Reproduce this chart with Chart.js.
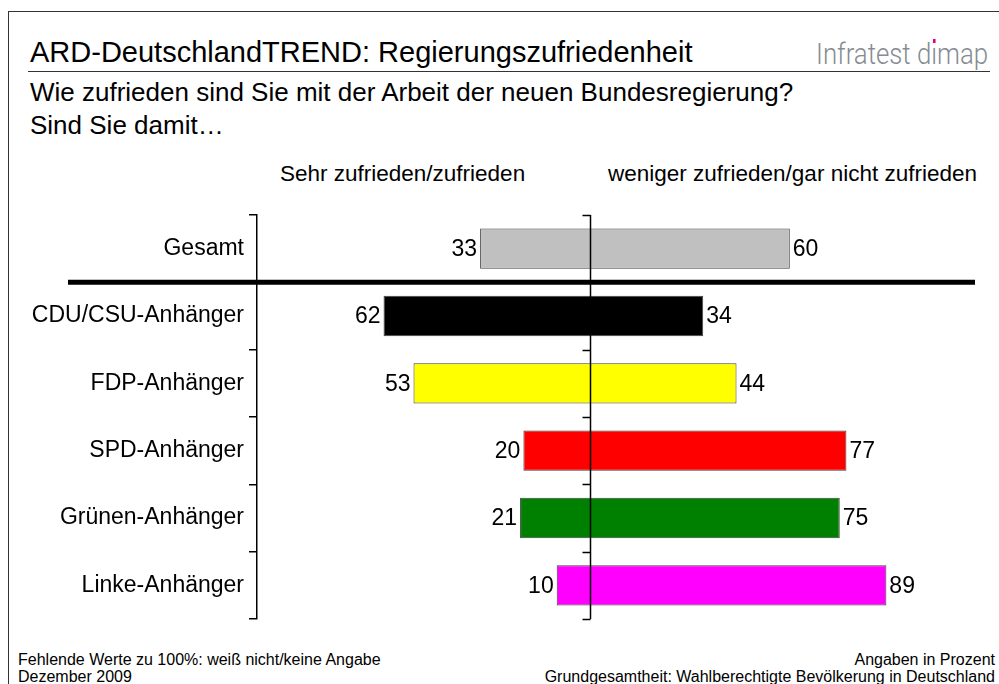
<!DOCTYPE html>
<html>
<head>
<meta charset="utf-8">
<script src="https://cdn.jsdelivr.net/npm/chart.js@4"></script>
<style>
  html, body { margin: 0; padding: 0; background: #fff; overflow: hidden; }
  body { width: 999px; height: 684px; position: relative; font-family: "Liberation Sans", Arial, sans-serif; color: #000; }
  .frame { position: absolute; left: 8px; top: 11px; width: 1100px; height: 800px; border: 1px solid #333; }
  .txt { position: absolute; white-space: nowrap; }
  #title { left: 30px; top: 38px; font-size: 29px; line-height: 29px; }
  #rule { position: absolute; left: 28px; top: 71px; width: 962px; height: 0; border-top: 1px solid #333; }
  #brand { right: 11px; top: 39px; font-size: 30px; line-height: 29px; color: #858c92; font-family: Roboto, sans-serif; font-weight: 300; transform: scaleX(0.86); transform-origin: right center; }
  #brand .i { position: relative; }
  #brand .dot { position: absolute; left: 2px; top: 3px; width: 3px; height: 4px; background: #e2007a; }
  #sub { left: 30px; top: 76px; font-size: 26px; line-height: 33px; }
  #hl { left: 280px; top: 163px; font-size: 22.5px; line-height: 22.5px; }
  #hr { left: 608px; top: 163px; font-size: 22.5px; line-height: 22.5px; }
  #fl { left: 18px; top: 651px; font-size: 16px; line-height: 17px; }
  #fr { right: 4px; top: 651px; font-size: 16px; line-height: 17px; text-align: right; }
  #wrap { position: absolute; left: 0; top: 0; width: 999px; height: 684px; }
</style>
</head>
<body>
<div class="frame"></div>
<div class="txt" id="title">ARD-DeutschlandTREND: Regierungszufriedenheit</div>
<div id="rule"></div>
<div class="txt" id="brand">Infratest d<span class="i">ı<span class="dot"></span></span>map</div>
<div class="txt" id="sub">Wie zufrieden sind Sie mit der Arbeit der neuen Bundesregierung?<br>Sind Sie damit…</div>
<div class="txt" id="hl">Sehr zufrieden/zufrieden</div>
<div class="txt" id="hr">weniger zufrieden/gar nicht zufrieden</div>
<div class="txt" id="fl">Fehlende Werte zu 100%: weiß nicht/keine Angabe<br>Dezember 2009</div>
<div class="txt" id="fr">Angaben in Prozent<br>Grundgesamtheit: Wahlberechtigte Bevölkerung in Deutschland</div>
<div id="wrap"><canvas id="chart"></canvas></div>
<script>
// data
const groups = ['Gesamt', 'CDU/CSU-Anhänger', 'FDP-Anhänger', 'SPD-Anhänger', 'Grünen-Anhänger', 'Linke-Anhänger'];
const zufrieden = [33, 62, 53, 20, 21, 10];
const nichtZufrieden = [60, 34, 44, 77, 75, 89];
const barColors = ['#c0c0c0', '#000000', '#ffff00', '#ff0000', '#008000', '#ff00ff'];

const labelFont = '23px "Liberation Sans", Arial, sans-serif';

// value labels at both bar ends
const valueLabels = {
  id: 'valueLabels',
  afterDatasetsDraw(chart) {
    const c = chart.ctx;
    const meta = chart.getDatasetMeta(0);
    c.save();
    c.font = labelFont;
    c.fillStyle = '#000';
    c.textBaseline = 'middle';
    meta.data.forEach((bar, i) => {
      const left = Math.min(bar.x, bar.base);
      const right = Math.max(bar.x, bar.base);
      c.textAlign = 'right';
      c.fillText(zufrieden[i], left - 3, bar.y + 1);
      c.textAlign = 'left';
      c.fillText(nichtZufrieden[i], right + 3, bar.y + 1);
    });
    c.restore();
  }
};

// zero line with ticks + separator under Gesamt
const extras = {
  id: 'extras',
  afterDatasetsDraw(chart) {
    const c = chart.ctx;
    const x = chart.scales.x;
    const y = chart.scales.y;
    const area = chart.chartArea;
    const x0 = Math.round(x.getPixelForValue(0)) + 0.5;
    c.save();
    c.strokeStyle = '#000';
    c.lineWidth = 1.5;
    c.beginPath();
    c.moveTo(x0, area.top);
    c.lineTo(x0, area.bottom);
    const step = (y.getPixelForValue(1) - y.getPixelForValue(0));
    for (let i = 0; i <= groups.length; i++) {
      const ty = Math.round(y.getPixelForValue(0) - step / 2 + i * step) + 0.5;
      c.moveTo(x0 - 8, ty);
      c.lineTo(x0, ty);
    }
    c.stroke();
    const sepY = (y.getPixelForValue(0) + y.getPixelForValue(1)) / 2;
    c.lineWidth = 5;
    c.beginPath();
    c.moveTo(68, sepY);
    c.lineTo(975, sepY);
    c.stroke();
    c.restore();
  }
};

const ctx = document.getElementById('chart').getContext('2d');
new Chart(ctx, {
  type: 'bar',
  data: {
    labels: groups,
    datasets: [{
      data: groups.map((g, i) => [-zufrieden[i], nichtZufrieden[i]]),
      backgroundColor: barColors,
      borderColor: '#404040',
      borderWidth: 1,
      borderSkipped: false,
      categoryPercentage: 0.6,
      barPercentage: 1
    }]
  },
  options: {
    indexAxis: 'y',
    responsive: true,
    maintainAspectRatio: false,
    animation: false,
    layout: { padding: { left: 0, top: 215, right: 76, bottom: 65 } },
    plugins: { legend: { display: false }, tooltip: { enabled: false } },
    scales: {
      x: { display: false, min: -100, max: 100 },
      y: {
        afterFit(scale) { scale.width = 257; },
        grid: { offset: true, drawOnChartArea: false, drawTicks: true, tickLength: 8, color: '#000', lineWidth: 1.5 },
        border: { display: true, color: '#000', width: 1.5 },
        ticks: { color: '#000', font: { family: '"Liberation Sans", Arial, sans-serif', size: 23 }, padding: 5 }
      }
    }
  },
  plugins: [valueLabels, extras]
});
</script>
</body>
</html>
